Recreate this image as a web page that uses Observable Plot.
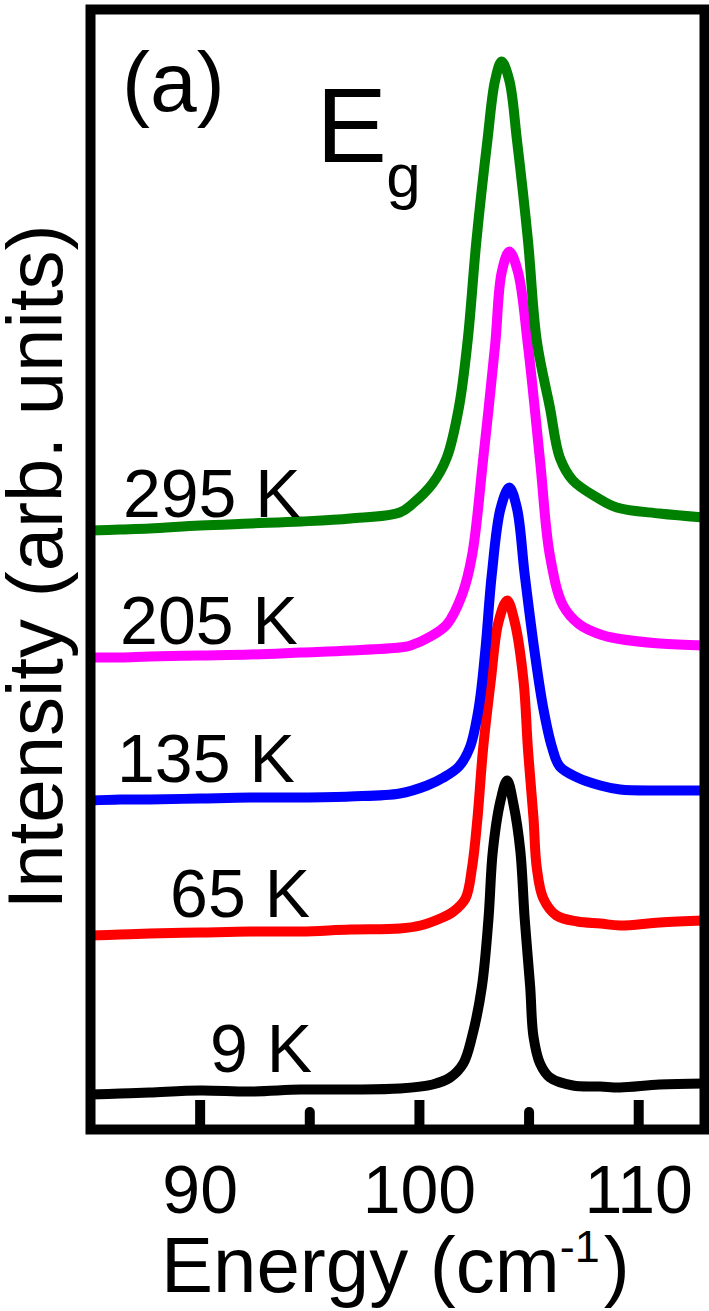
<!DOCTYPE html>
<html><head><meta charset="utf-8">
<script src="https://cdn.jsdelivr.net/npm/d3@7"></script>
<script src="https://cdn.jsdelivr.net/npm/@observablehq/plot@0.6"></script>
<style>body{margin:0;background:#fff}</style>
</head><body><div id="chart"></div>
<script>
const series = ["9 K", "65 K", "135 K", "205 K", "295 K"];
const colors = ["#000000", "#ff0000", "#0000ff", "#ff00ff", "#008000"];

const energy9K = [85.0, 86.35, 87.7, 90.0, 92.3, 94.6, 96.85, 99.1, 100.6, 101.4, 102.0, 102.4, 102.85, 103.15, 103.35, 103.7, 104.0, 104.3, 104.6, 104.8, 105.05, 105.2, 105.5, 105.95, 107.0, 108.25, 109.15, 110.95, 113.0];
const intensity9K = [38, 39, 40, 42, 41, 43, 43, 44, 48, 55, 69, 96, 146, 214, 282, 332, 352, 327, 282, 214, 146, 96, 69, 55, 47, 46, 45, 48, 49];

const energy65K = [85.0, 86.35, 87.7, 90.0, 92.3, 94.6, 96.85, 99.1, 100.05, 100.95, 101.55, 102.1, 102.4, 102.65, 102.9, 103.25, 103.6, 104.0, 104.35, 104.75, 104.95, 105.2, 105.35, 105.65, 106.25, 107.2, 108.25, 109.15, 110.95, 113.0];
const intensity65K = [197, 198, 199, 200, 201, 201, 203, 204, 207, 214, 221, 234, 265, 315, 383, 451, 510, 532, 510, 451, 383, 315, 265, 234, 217, 211, 209, 207, 210, 212];

const energy135K = [85.0, 86.35, 87.7, 90.0, 92.3, 94.6, 96.85, 99.1, 100.35, 101.1, 101.8, 102.3, 102.7, 103.0, 103.3, 103.7, 104.1, 104.45, 104.8, 105.25, 105.65, 106.05, 106.4, 107.2, 108.25, 109.15, 110.95, 113.0];
const intensity135K = [332, 333, 333, 334, 335, 335, 336, 339, 347, 355, 366, 385, 424, 481, 558, 624, 645, 624, 558, 481, 424, 385, 366, 355, 347, 343, 342, 342];

const energy205K = [85.0, 86.35, 87.7, 90.0, 92.3, 94.6, 96.85, 99.1, 99.6, 100.5, 101.25, 101.95, 102.4, 102.9, 103.45, 103.75, 104.1, 104.5, 104.95, 105.5, 105.95, 106.55, 107.3, 108.25, 109.0, 110.95, 113.0];
const intensity205K = [475, 475, 476, 477, 478, 480, 482, 485, 487, 496, 508, 538, 577, 672, 787, 860, 881, 860, 787, 672, 577, 527, 508, 498, 494, 489, 487];

const energy295K = [85.0, 86.35, 87.7, 90.0, 92.3, 94.6, 96.85, 99.1, 99.7, 100.6, 101.25, 101.8, 102.2, 102.6, 103.1, 103.45, 103.75, 104.1, 104.45, 104.95, 105.35, 105.95, 106.4, 107.0, 108.1, 109.0, 110.95, 113.0];
const intensity295K = [602, 603, 604, 607, 609, 611, 614, 620, 629, 649, 675, 725, 792, 892, 992, 1052, 1071, 1052, 992, 892, 792, 725, 675, 652, 635, 625, 619, 615];

const xTicks = [90, 100, 110];
const xMinorTicks = [95, 105];

const tempLabels = ["295 K", "205 K", "135 K", "65 K", "9 K"];
const labelEnergy = [86.48, 86.35, 86.21, 88.63, 90.45];
const labelIntensity = [637, 510, 372, 237, 82];

const panelLabel = ["(a)"];
const modeMain = ["E"];
const modeSub = ["g"];

const FONT = '"Liberation Sans", Arial, Helvetica, sans-serif';

const energies = [energy9K, energy65K, energy135K, energy205K, energy295K];
const intensities = [intensity9K, intensity65K, intensity135K, intensity205K, intensity295K];
const rows = [];
series.forEach((T, s) => {
  energies[s].forEach((e, i) => rows.push({T, energy: e, intensity: intensities[s][i]}));
});

const plotH = 1311 - 9 - 182;

const chart = Plot.plot({
  width: 709,
  height: 1311,
  marginLeft: 90,
  marginRight: 5,
  marginTop: 9,
  marginBottom: 182,
  style: {fontFamily: FONT, background: "#fff", color: "#000"},
  x: {domain: [85, 113], axis: null},
  y: {domain: [3, 1123], axis: null},
  color: {domain: series, range: colors},
  marks: [
    Plot.line(rows, {x: "energy", y: "intensity", z: "T", stroke: "T", strokeWidth: 10, curve: "catmull-rom", clip: true, strokeLinejoin: "round"}),
    Plot.tickX(xTicks, {x: d => d, stroke: "#000", strokeWidth: 10, insetTop: plotH - 29}),
    Plot.tickX(xMinorTicks, {x: d => d, stroke: "#000", strokeWidth: 10, insetTop: plotH - 17, strokeLinecap: "round"}),
    Plot.axisX(xTicks, {tickSize: 0, tickPadding: 35, fontSize: 68, fill: "#000", label: null}),
    Plot.frame({stroke: "#000", strokeWidth: 10}),
    Plot.text(tempLabels, {x: (d, i) => labelEnergy[i], y: (d, i) => labelIntensity[i], text: d => d, textAnchor: "start", fontSize: 68, fill: "#000"}),
    Plot.text(panelLabel, {x: () => 86.44, y: () => 1048, text: d => d, textAnchor: "start", fontSize: 84, fill: "#000"}),
    Plot.text(modeMain, {x: () => 95.29, y: () => 1004, text: d => d, textAnchor: "start", fontSize: 106, fill: "#000"}),
    Plot.text(modeSub, {x: () => 98.49, y: () => 955, text: d => d, textAnchor: "start", fontSize: 62, fill: "#000"})
  ]
});

const svg = d3.select(chart);
svg.append("text")
  .attr("transform", "translate(62,567) rotate(-90)")
  .attr("text-anchor", "middle")
  .attr("font-size", 78)
  .attr("font-family", FONT)
  .attr("fill", "#000")
  .text("Intensity (arb. units)");
const xl = svg.append("text")
  .attr("x", 161).attr("y", 1292)
  .attr("text-anchor", "start")
  .attr("font-size", 78)
  .attr("font-family", FONT)
  .attr("fill", "#000");
xl.append("tspan").text("Energy (cm");
xl.append("tspan").attr("font-size", 45).attr("dy", -30).text("-1");
xl.append("tspan").attr("dy", 30).attr("dx", 4).text(")");

document.getElementById("chart").appendChild(chart);
</script>
</body></html>
